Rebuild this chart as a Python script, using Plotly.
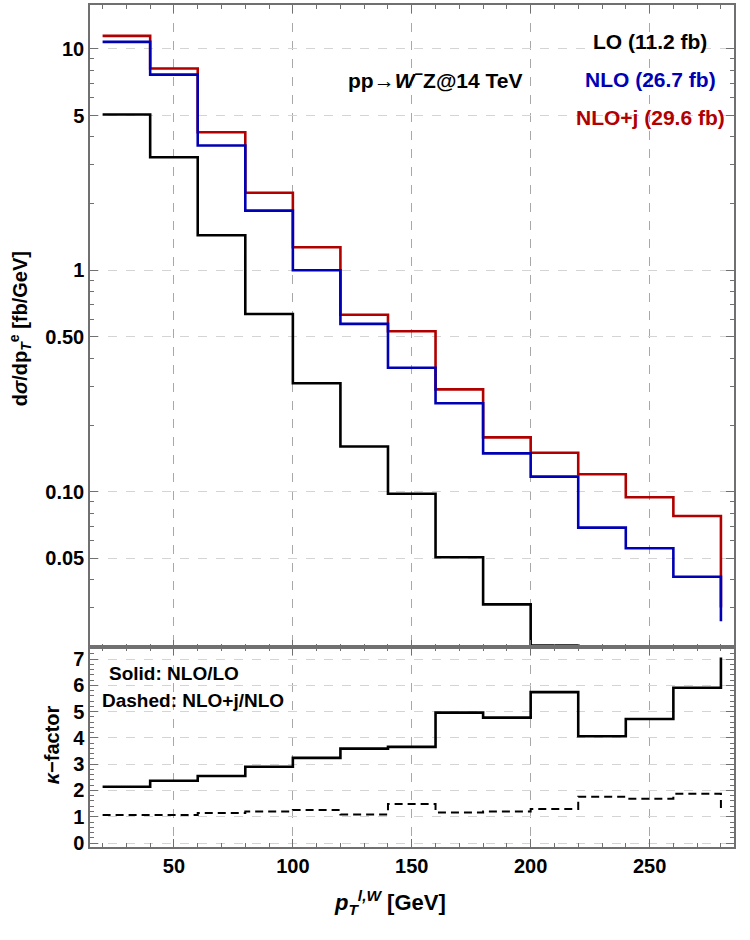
import plotly.graph_objects as go

# ---------------- data ----------------
pt_edges = [20, 40, 60, 80, 100, 120, 140, 160, 180, 200, 220, 240, 260, 280]
lo = [5.05, 3.24, 1.44, 0.635, 0.309, 0.160, 0.098, 0.0506, 0.031, 0.0202, 0.0168, 0.0117, 0.0069, 0.0037]
nlo = [10.75, 7.65, 3.66, 1.86, 1.00, 0.573, 0.363, 0.251, 0.149, 0.117, 0.0689, 0.0556, 0.0413, 0.026]
nloj = [11.44, 8.15, 4.20, 2.24, 1.27, 0.630, 0.531, 0.290, 0.176, 0.150, 0.120, 0.0944, 0.0777, 0.030]
k_nlo_lo = [2.14, 2.37, 2.55, 2.90, 3.24, 3.59, 3.66, 4.96, 4.77, 5.74, 4.06, 4.72, 5.91, 7.06]
k_nloj_nlo = [1.07, 1.07, 1.14, 1.20, 1.26, 1.09, 1.49, 1.16, 1.20, 1.30, 1.76, 1.69, 1.88, 1.16]

top_ytick_vals = [0.05, 0.1, 0.5, 1, 5, 10]
top_ytick_text = ["0.05", "0.10", "0.50", "1", "5", "10"]
x_major = [50, 100, 150, 200, 250]
x_minor = [20, 30, 40, 60, 70, 80, 90, 110, 120, 130, 140, 160, 170, 180, 190, 210, 220, 230, 240, 260, 270, 280]
log_minor = [m * 10 ** e for e in (-2, -1, 0, 1) for m in range(2, 10)]
k_major = [0, 1, 2, 3, 4, 5, 6, 7]
k_minor = [i / 5 for i in range(0, 37) if i % 5 != 0]

RED = "#b00000"
BLUE = "#0000b4"
FONT = "Liberation Sans"
FRAME = "#707070"
VGRID = "#a8a8a8"
HGRID = "#d4d4d4"

fig = go.Figure()
fig.add_trace(go.Scatter(x=pt_edges, y=nloj, mode="lines", line=dict(shape="hv", color=RED, width=2.6),
                         xaxis="x", yaxis="y", showlegend=False))
fig.add_trace(go.Scatter(x=pt_edges, y=nlo, mode="lines", line=dict(shape="hv", color=BLUE, width=2.6),
                         xaxis="x", yaxis="y", showlegend=False))
fig.add_trace(go.Scatter(x=pt_edges, y=lo, mode="lines", line=dict(shape="hv", color="black", width=2.6),
                         xaxis="x", yaxis="y", showlegend=False))
fig.add_trace(go.Scatter(x=pt_edges, y=k_nlo_lo, mode="lines", line=dict(shape="hv", color="black", width=2.6),
                         xaxis="x2", yaxis="y2", showlegend=False))
fig.add_trace(go.Scatter(x=pt_edges, y=k_nloj_nlo, mode="lines",
                         line=dict(shape="hv", color="black", width=2.0, dash="8px,5px"),
                         xaxis="x2", yaxis="y2", showlegend=False))

split = 0.237
xr = [14.7, 285.5]
tickfont = dict(family=FONT, size=20, color="black", weight="bold")

common_x = dict(range=xr, linecolor=FRAME, linewidth=1.5, mirror="allticks", ticks="inside",
                ticklen=8, tickcolor=FRAME, tickwidth=1, showgrid=True, gridcolor=VGRID,
                griddash="dash", gridwidth=1, zeroline=False,
                tickmode="array", tickvals=x_major,
                minor=dict(tickmode="array", tickvals=x_minor, ticks="inside", ticklen=4,
                           tickcolor=FRAME, showgrid=False))

fig.update_layout(
    width=750, height=940, autosize=False,
    margin=dict(l=90, r=16, t=3, b=93),
    paper_bgcolor="white", plot_bgcolor="white",
    xaxis=dict(**common_x, anchor="y", domain=[0, 1], showticklabels=False),
    xaxis2=dict(**common_x, anchor="y2", domain=[0, 1], showticklabels=True, tickfont=tickfont,
                ticktext=[str(v) for v in x_major]),
    yaxis=dict(type="log", range=[-1.703, 1.198], domain=[split, 1], anchor="x",
               linecolor=FRAME, linewidth=1.5, mirror="allticks", ticks="inside", ticklen=8,
               tickcolor=FRAME, showgrid=True, gridcolor=HGRID, griddash="dash", zeroline=False,
               tickmode="array", tickvals=top_ytick_vals, ticktext=top_ytick_text, tickfont=tickfont,
               minor=dict(tickmode="array", tickvals=log_minor, ticks="inside", ticklen=4,
                          tickcolor=FRAME, showgrid=False)),
    yaxis2=dict(range=[-0.15, 7.44], domain=[0, split], anchor="x2",
                linecolor=FRAME, linewidth=1.5, mirror="allticks", ticks="inside", ticklen=8,
                tickcolor=FRAME, showgrid=True, gridcolor=HGRID, griddash="dash", zeroline=False,
                tickmode="array", tickvals=k_major, tickfont=tickfont,
                minor=dict(tickmode="array", tickvals=k_minor, ticks="inside", ticklen=4,
                           tickcolor=FRAME, showgrid=False)),
)

def px_x(p):
    return (p - 90) / 644.0

def px_y(p):
    return (847 - p) / 844.0

ann_font = dict(family=FONT, size=20, weight="bold")
annotations = [
    dict(text="pp→<i>W</i><sup>−</sup>Z@14 TeV", x=px_x(435), y=px_y(77), font=dict(ann_font, color="black", size=21)),
    dict(text="LO (11.2 fb)", x=px_x(650), y=px_y(40), font=dict(ann_font, color="black", size=21)),
    dict(text="NLO (26.7 fb)", x=px_x(650), y=px_y(78), font=dict(ann_font, color=BLUE, size=21)),
    dict(text="NLO+j (29.6 fb)", x=px_x(650), y=px_y(116), font=dict(ann_font, color=RED, size=21)),
    dict(text="Solid: NLO/LO", x=px_x(107), y=px_y(673), xanchor="left", font=dict(ann_font, color="black", size=19)),
    dict(text="Dashed: NLO+j/NLO", x=px_x(100), y=px_y(700), xanchor="left", font=dict(ann_font, color="black", size=19)),
    dict(text="d<i>σ</i>/dp<sub><i>T</i></sub><sup>e</sup> [fb/GeV]", x=px_x(20), y=px_y(328), textangle=-90,
         font=dict(ann_font, color="black", size=20)),
    dict(text="<i>κ</i>−factor", x=px_x(52), y=px_y(745), textangle=-90, font=dict(ann_font, color="black", size=20)),
    dict(text="<i>p</i><sub><i>T</i></sub><sup><i>l,W</i></sup> [GeV]", x=px_x(390), y=px_y(903),
         font=dict(ann_font, color="black", size=22)),
]
for a in annotations:
    a.setdefault("xanchor", "center")
    a.update(xref="paper", yref="paper", yanchor="middle", showarrow=False)
fig.update_layout(annotations=annotations)

fig.write_html("out.html")
